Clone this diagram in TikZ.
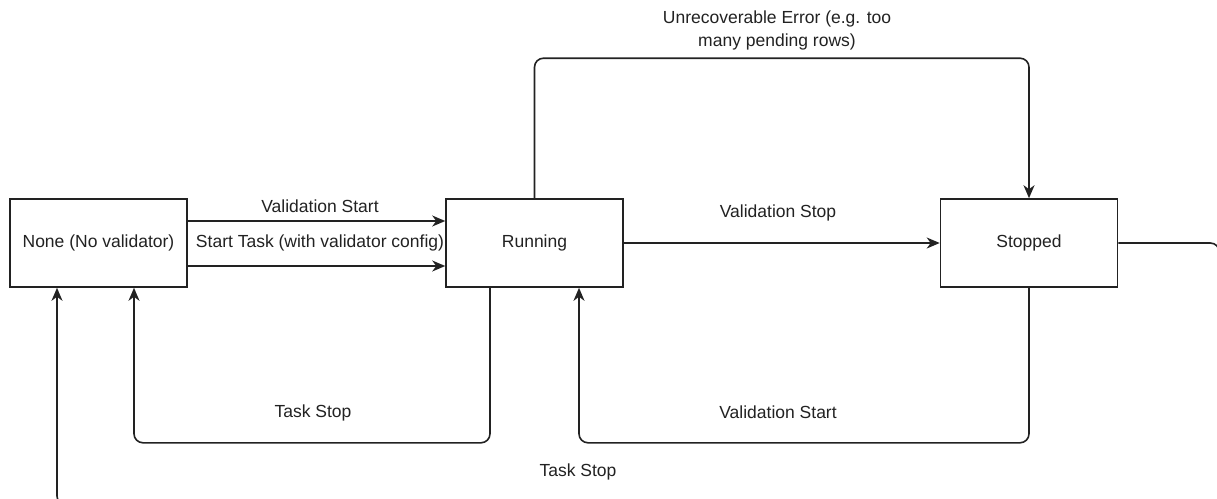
\documentclass[tikz,border=0pt]{standalone}
\usepackage{fontspec}
\setmainfont{Liberation Sans}
\usetikzlibrary{arrows.meta}
\definecolor{ink}{HTML}{222222}
\tikzset{
  statebox/.style={draw=ink, line width=1.6pt, minimum width=177pt, minimum height=88pt, inner sep=0pt, fill=white, text=ink, font=\fontsize{17.5}{21}\selectfont},
  conn/.style={draw=ink, line width=1.6pt, -{Stealth[length=13pt,width=11pt,inset=4pt]}, rounded corners=9pt},
  lbl/.style={text=ink, font=\fontsize{17.5}{23}\selectfont, inner sep=0pt, align=center}
}
\begin{document}
\begin{tikzpicture}[x=1pt,y=-1pt]
\useasboundingbox[fill=white] (0,0) rectangle (1217,498);
\clip (0,0) rectangle (1217,498);
\node[statebox] (none) at (98.5,243) {None (No validator)};
\node[statebox] (running) at (534.5,243) {Running};
\node[statebox] (stopped) at (1029,243) {Stopped};

% None -> Running
\draw[conn] ([yshift=22pt]none.east) -- ([yshift=22pt]running.west);
\draw[conn] ([yshift=-23pt]none.east) -- ([yshift=-23pt]running.west);
\node[lbl] (lvs1) at (320,206) {Validation Start};
\node[lbl] (lst) at (320,243) {Start Task (with validator config)};

% Running -> Stopped
\draw[conn] (running.east) -- (stopped.west);
\node[lbl] (lvstop) at (778,213) {Validation Stop};

% Unrecoverable error
\draw[conn] (running.north) -- ++(0,-140) -| (stopped.north);
\node[lbl] (lerr) at (777,30) {Unrecoverable Error (e.g. too\\many pending rows)};

% Running -> None (Task Stop)
\draw[conn] ([xshift=-44.5pt]running.south) -- ++(0,155) -| ([xshift=35.5pt]none.south);
\node[lbl] (lts1) at (313,413) {Task Stop};

% Stopped -> Running (Validation Start)
\draw[conn] (stopped.south) -- ++(0,155) -| ([xshift=44.5pt]running.south);
\node[lbl] (lvs2) at (778,412) {Validation Start};

% Stopped -> None (Task Stop)
\draw[conn] (stopped.east) -- ++(101,0) -- ++(0,262) -| ([xshift=-41.5pt]none.south);
\node[lbl] (lts2) at (578,472) {Task Stop};
\end{tikzpicture}
\end{document}
